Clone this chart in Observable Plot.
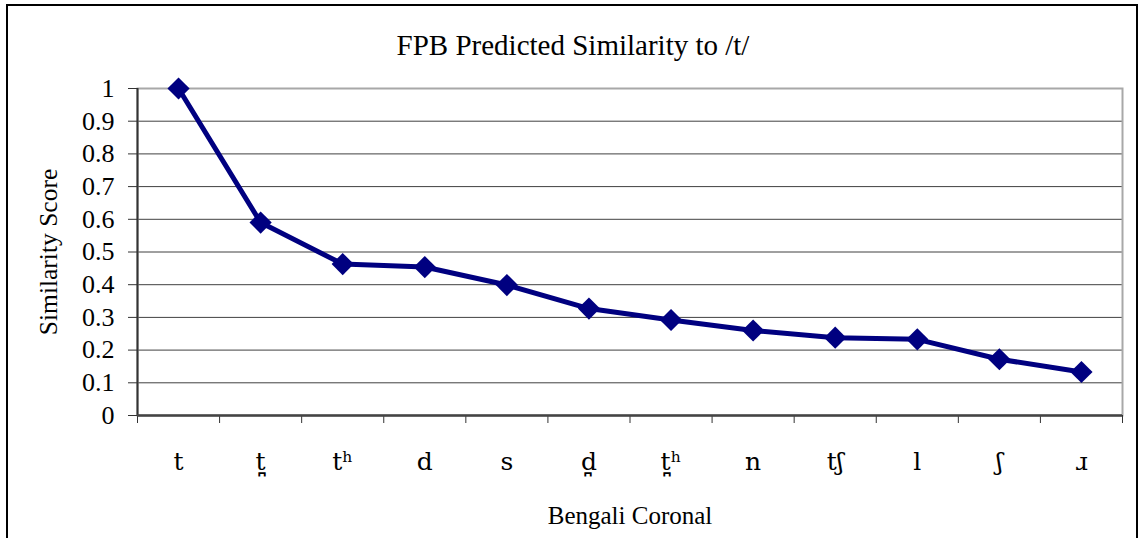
<!DOCTYPE html>
<html><head><meta charset="utf-8">
<script src="https://cdn.jsdelivr.net/npm/d3@7"></script>
<script src="https://cdn.jsdelivr.net/npm/@observablehq/plot@0.6"></script>
<style>
html,body{margin:0;padding:0;background:#fff;overflow:hidden}
#wrap{position:relative;width:1139px;height:538px;overflow:hidden}
#border{position:absolute;left:6px;top:4px;width:1132px;height:620px;border:2.5px solid #000;box-sizing:border-box;pointer-events:none;z-index:2}
#chart{position:absolute;left:0;top:0}
</style></head><body>
<div id="wrap"><div id="border"></div><div id="chart"></div></div>
<script>
const categories = ["t", "t\u032A", "t\u02B0", "d", "s", "d\u032A", "t\u032A\u02B0", "n", "t\u0283", "l", "\u0283", "\u0279"];
const scores = [1.0, 0.590, 0.463, 0.454, 0.399, 0.327, 0.292, 0.260, 0.238, 0.233, 0.172, 0.133];
const yTicks = [0, 0.1, 0.2, 0.3, 0.4, 0.5, 0.6, 0.7, 0.8, 0.9, 1];
const titleText = "FPB Predicted Similarity to /t/";
const xLabel = "Bengali Coronal";
const yLabel = "Similarity Score";

const data = categories.map((c, i) => ({i, c, score: scores[i]}));
const idx = categories.map((c, i) => i);
const bounds = categories.map((c, i) => i - 0.5).concat([categories.length - 0.5]);
const font = "'Liberation Serif', 'Times New Roman', serif";
const navy = "#000080";

const chart = Plot.plot({
  width: 1139,
  height: 538,
  marginLeft: 137,
  marginRight: 17,
  marginTop: 88,
  marginBottom: 123,
  style: {fontFamily: font, background: "transparent", color: "#000"},
  x: {type: "linear", domain: [-0.5, categories.length - 0.5], axis: null},
  y: {domain: [0, 1], axis: null},
  marks: [
    Plot.gridY(yTicks, {stroke: "#000", strokeOpacity: 0.75, strokeWidth: 1}),
    Plot.frame({stroke: "#a8a8a8", strokeWidth: 2}),
    Plot.axisY(yTicks, {tickSize: 9, tickPadding: 14, fontSize: 26, tickFormat: d => String(d), stroke: "#333", label: null}),
    Plot.axisX(bounds, {tickSize: 8, tickFormat: () => "", stroke: "#333", label: null}),
    Plot.axisX(idx, {tickSize: 0, tickPadding: 37, fontSize: 25, fontFamily: "'DejaVu Serif', serif", tickFormat: i => categories[i], label: null}),
    Plot.ruleX([-0.5], {stroke: "#333", strokeWidth: 2}),
    Plot.ruleY([0], {stroke: "#444", strokeWidth: 2.5}),
    Plot.line(data, {x: "i", y: "score", stroke: navy, strokeWidth: 5, strokeLinejoin: "round"}),
    Plot.dot(data, {x: "i", y: "score", symbol: "diamond2", r: 10, fill: navy, stroke: "none"}),
    Plot.text([titleText], {frameAnchor: "top", dx: -57, dy: -43, lineAnchor: "middle", fontSize: 29, fill: "#000"}),
    Plot.text([xLabel], {frameAnchor: "bottom", dy: 100, lineAnchor: "middle", fontSize: 25, fill: "#000"}),
    Plot.text([yLabel], {frameAnchor: "left", textAnchor: "middle", dx: -89, rotate: -90, lineAnchor: "middle", fontSize: 25.5, fill: "#000"})
  ]
});
document.getElementById("chart").appendChild(chart);
</script>
</body></html>
